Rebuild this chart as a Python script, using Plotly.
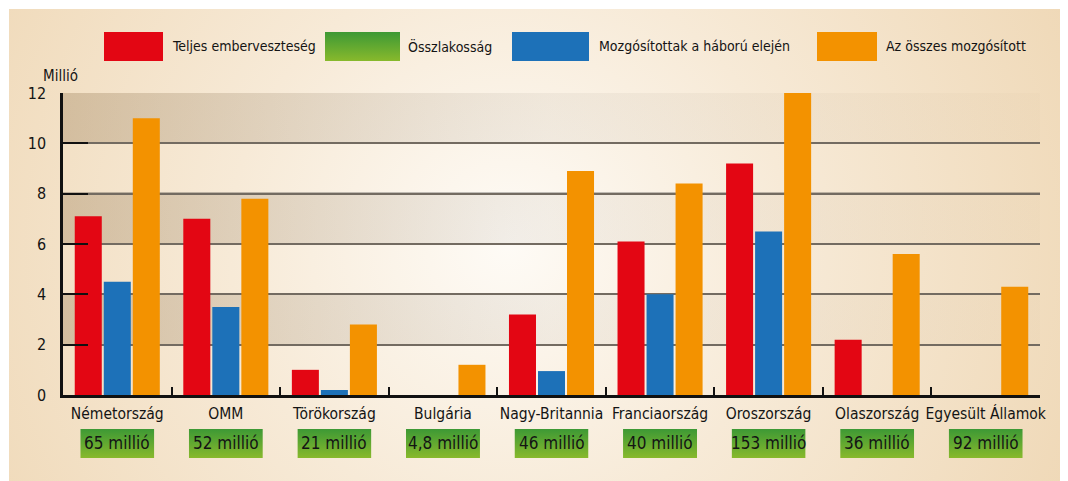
import base64
import plotly.graph_objects as go

# ---- data ----
categories = ["Németország", "OMM", "Törökország", "Bulgária", "Nagy-Britannia",
              "Franciaország", "Oroszország", "Olaszország", "Egyesült Államok"]
teljes_emberveszteseg = [7.1, 7.0, 1.0, 0.0, 3.2, 6.1, 9.2, 2.2, 0.0]
mozgositottak_haboru_elejen = [4.5, 3.5, 0.2, 0.0, 0.95, 4.0, 6.5, 0.0, 0.0]
osszes_mozgositott = [11.0, 7.8, 2.8, 1.2, 8.9, 8.4, 12.0, 5.6, 4.3]
osszlakossag = ["65 millió", "52 millió", "21 millió", "4,8 millió", "46 millió",
                "40 millió", "153 millió", "36 millió", "92 millió"]
series_names = ["Teljes emberveszteség", "Összlakosság",
                "Mozgósítottak a háború elején", "Az összes mozgósított"]
y_ticks = [0, 2, 4, 6, 8, 10, 12]

RED, GREEN, BLUE, ORANGE = "#e30613", "#4fa234", "#1d71b8", "#f39200"
FONT = "DejaVu Sans Condensed, Liberation Sans Narrow, sans-serif"
TXT = "#141414"
FS = 15

OFF = 8  # page body margin
W, H = 1068 - OFF, 481 - OFF
L, R, T, B = 63 - OFF, 28, 93 - OFF, 86
PW, PH = W - L - R, H - T - B


def px_x(x):
    return (x - OFF - L) / PW


def px_y(y):
    return (H + OFF - B - y) / PH


def svg_uri(svg):
    return "data:image/svg+xml;base64," + base64.b64encode(svg.encode()).decode()


panel_svg = svg_uri(
    '<svg xmlns="http://www.w3.org/2000/svg" width="1059" height="472" viewBox="0 0 1059 472" '
    'preserveAspectRatio="none"><defs><radialGradient id="g" cx="500" cy="235" r="620" '
    'gradientUnits="userSpaceOnUse"><stop offset="0" stop-color="#fefbf6"/>'
    '<stop offset="0.45" stop-color="#f7ead7"/><stop offset="1" stop-color="#efd8b6"/>'
    '</radialGradient></defs><rect x="0" y="0" width="1059" height="472" fill="url(#g)"/></svg>')

band_svg = svg_uri(
    '<svg xmlns="http://www.w3.org/2000/svg" width="100" height="10" viewBox="0 0 100 10" '
    'preserveAspectRatio="none"><defs><linearGradient id="b" x1="0" x2="1" y1="0" y2="0">'
    '<stop offset="0" stop-color="#7a5a30" stop-opacity="0.26"/>'
    '<stop offset="0.5" stop-color="#7a6e60" stop-opacity="0.08"/>'
    '<stop offset="1" stop-color="#7a5a30" stop-opacity="0.02"/></linearGradient></defs>'
    '<rect width="100" height="10" fill="url(#b)"/></svg>')

green_svg = svg_uri(
    '<svg xmlns="http://www.w3.org/2000/svg" width="10" height="10" viewBox="0 0 10 10" '
    'preserveAspectRatio="none"><defs><linearGradient id="c" x1="0" x2="0" y1="0" y2="1">'
    '<stop offset="0" stop-color="#3d9935"/><stop offset="1" stop-color="#88b92c"/>'
    '</linearGradient></defs><rect width="10" height="10" fill="url(#c)"/></svg>')

fig = go.Figure()
for name, vals, col in [(series_names[0], teljes_emberveszteseg, RED),
                        (series_names[2], mozgositottak_haboru_elejen, BLUE),
                        (series_names[3], osszes_mozgositott, ORANGE)]:
    fig.add_trace(go.Bar(x=categories, y=vals, name=name, marker=dict(color=col, line=dict(width=0)),
                         showlegend=False, hoverinfo="x+y+name"))

images = [dict(source=panel_svg, xref="paper", yref="paper", x=px_x(9), y=px_y(9),
               sizex=1059 / PW, sizey=472 / PH, sizing="stretch", layer="below",
               xanchor="left", yanchor="top")]
# darker horizontal bands (10-12, 6-8, 2-4)
for top in [12, 8, 4]:
    images.append(dict(source=band_svg, xref="paper", yref="y", x=0, y=top, sizex=1, sizey=2,
                       sizing="stretch", layer="below", xanchor="left", yanchor="top"))

annotations = []
shapes = []
n = len(categories)
box_w, box_h = 74, 29
for i, pop in enumerate(osszlakossag):
    cx = (i + 0.5) / n
    images.append(dict(source=green_svg, xref="paper", yref="paper", x=cx, y=px_y(429),
                       sizex=box_w / PW, sizey=box_h / PH, sizing="stretch", layer="above",
                       xanchor="center", yanchor="top"))
    annotations.append(dict(text=pop, xref="paper", yref="paper", x=cx, y=px_y(443.5),
                            xanchor="center", yanchor="middle", showarrow=False,
                            font=dict(family=FONT, size=17, color=TXT)))

# legend (custom large swatches)
legend_items = [(series_names[0], RED, 104, 163, 170),
                (series_names[1], None, 325, 400, 406),
                (series_names[2], BLUE, 512, 589, 597),
                (series_names[3], ORANGE, 817, 877, 884)]
for name, col, x0, x1, tx in legend_items:
    if col is None:
        images.append(dict(source=green_svg, xref="paper", yref="paper", x=px_x(x0), y=px_y(32),
                           sizex=(x1 - x0) / PW, sizey=29 / PH, sizing="stretch", layer="above",
                           xanchor="left", yanchor="top"))
    else:
        shapes.append(dict(type="rect", xref="paper", yref="paper", x0=px_x(x0), x1=px_x(x1),
                           y0=px_y(61), y1=px_y(32), fillcolor=col, line=dict(width=0)))
    annotations.append(dict(text=name, xref="paper", yref="paper", x=px_x(tx), y=px_y(46.5),
                            xanchor="left", yanchor="middle", showarrow=False,
                            font=dict(family=FONT, size=14, color=TXT)))

annotations.append(dict(text="Millió", xref="paper", yref="paper", x=px_x(60), y=px_y(76),
                        xanchor="center", yanchor="middle", showarrow=False,
                        font=dict(family=FONT, size=FS, color=TXT)))

# black gridline at 8
shapes.append(dict(type="line", xref="paper", yref="y", x0=0, x1=1, y0=8, y1=8,
                   line=dict(color="#111111", width=2), layer="between"))

fig.update_layout(
    width=W, height=H,
    margin=dict(l=L, r=R, t=T, b=B, pad=0, autoexpand=False),
    paper_bgcolor="white", plot_bgcolor="rgba(0,0,0,0)",
    barmode="group", bargap=0.198, bargroupgap=0.069,
    showlegend=False,
    font=dict(family=FONT, size=FS, color=TXT),
    images=images, shapes=shapes, annotations=annotations,
    xaxis=dict(showgrid=False, showline=True, linecolor="#111111", linewidth=2.5,
               ticks="inside", tickson="boundaries", ticklen=8, tickwidth=2, tickcolor="#111111",
               tickangle=0, automargin=False, ticklabelstandoff=3,
               tickfont=dict(family=FONT, size=15.5, color=TXT), fixedrange=True, zeroline=False),
    yaxis=dict(range=[0, 12], tickvals=y_ticks, showgrid=True, gridcolor="#736b61", gridwidth=2,
               showline=True, linecolor="#111111", linewidth=2.5, ticks="inside", ticklen=25,
               tickwidth=2, tickcolor="#111111", ticklabelstandoff=11, zeroline=False,
               automargin=False,
               tickfont=dict(family=FONT, size=16, color=TXT), fixedrange=True),
)

fig.write_html("out.html")
